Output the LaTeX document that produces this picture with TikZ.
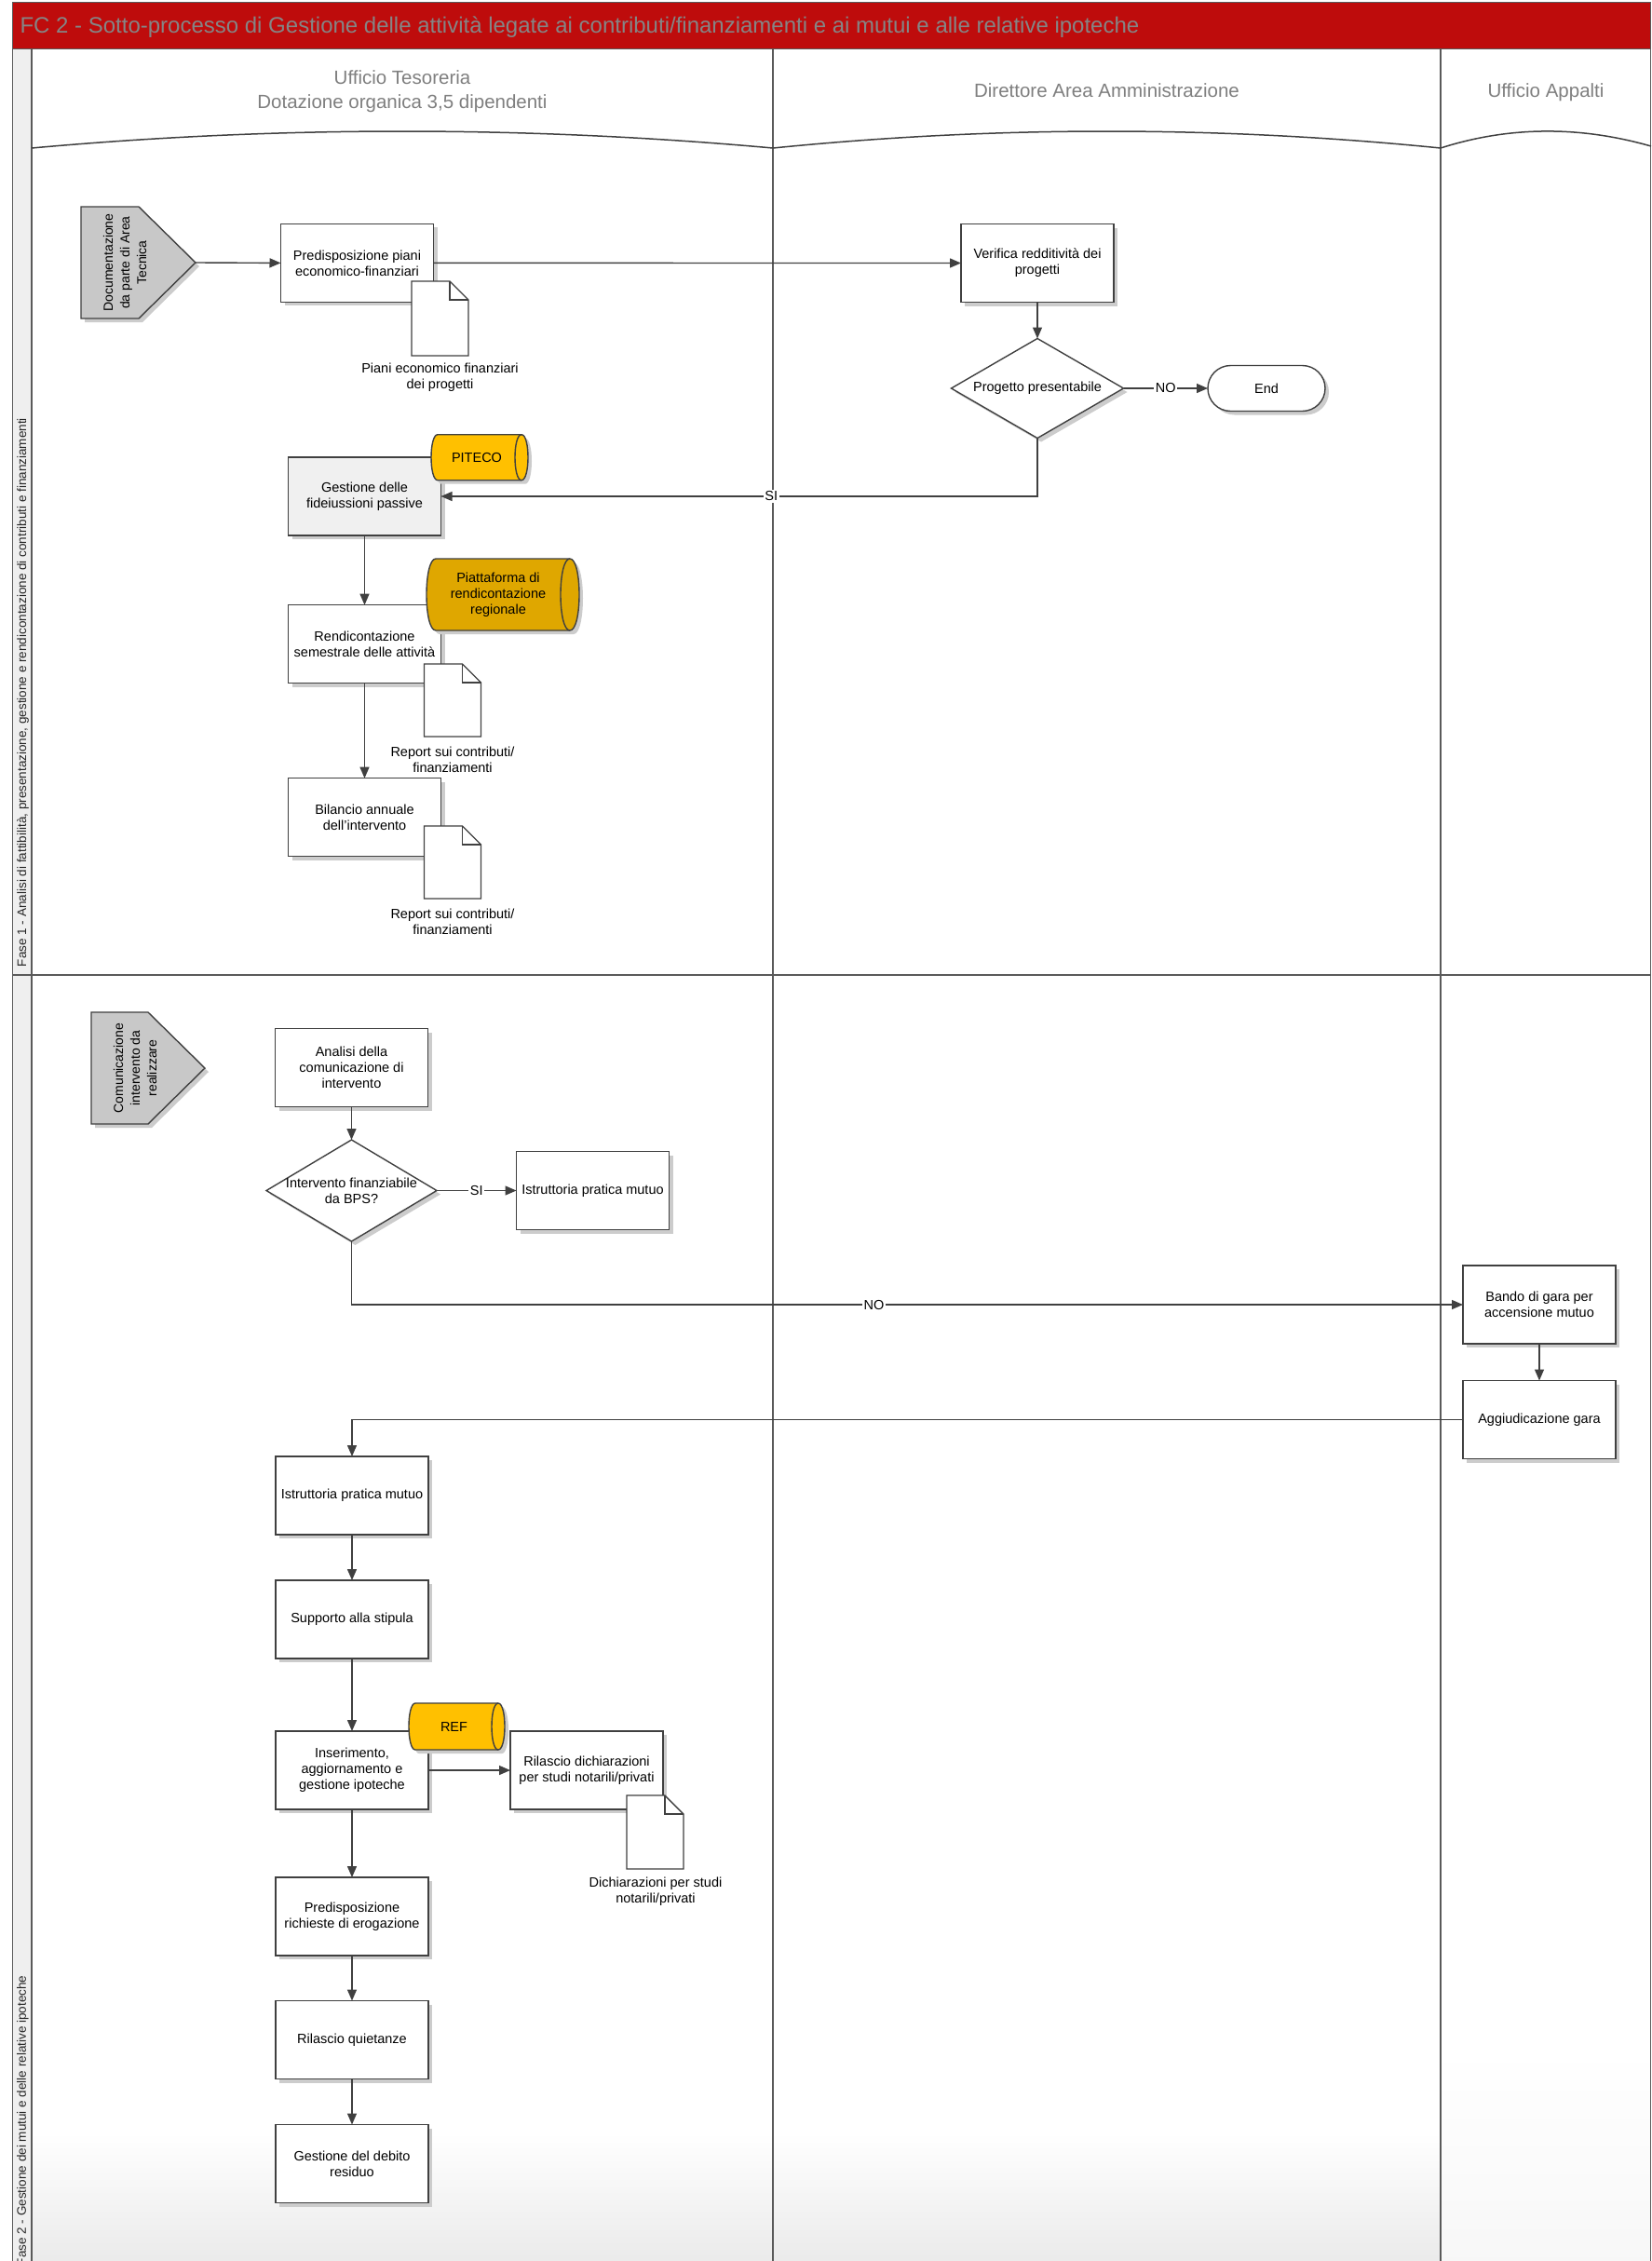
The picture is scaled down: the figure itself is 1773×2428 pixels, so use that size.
\documentclass[tikz,border=0pt]{standalone}
\usepackage{fontspec}
\setmainfont{Liberation Sans}
\usetikzlibrary{arrows.meta,calc,shadows}

\definecolor{titlered}{HTML}{BE0C0C}
\definecolor{titletext}{HTML}{858585}
\definecolor{hdrtext}{HTML}{7F7F7F}
\definecolor{ink}{HTML}{404040}
\definecolor{framec}{HTML}{5A5A5A}
\definecolor{bandc}{HTML}{EFEFEF}
\definecolor{connfill}{HTML}{C8C8C8}
\definecolor{gold}{HTML}{FFC000}
\definecolor{darkgold}{HTML}{DFA700}
\definecolor{softgray}{HTML}{F0F0F0}

\newcommand\ttlfont{\fontsize{24}{28}\selectfont}
\newcommand\hdrfont{\fontsize{20.5}{26}\selectfont}
\newcommand\txtfont{\fontsize{14.5}{17}\selectfont}
\newcommand\rotfont{\fontsize{14}{18}\selectfont}
\newcommand\phfont{\fontsize{13.5}{16}\selectfont}

\tikzset{
  every node/.style={inner sep=0pt, outer sep=0pt},
  boxshadow/.style={drop shadow={shadow xshift=4pt, shadow yshift=-4pt, fill=black!20, opacity=1}},
  shp/.style={draw=ink, line width=1.4pt, fill=white, line join=miter},
  shpline/.style={draw=ink, line width=1.4pt},
  geo/.style={draw=none, fill=none},
  taskbox/.style={draw=ink, line width=1.4pt, fill=white, minimum width=164pt,
    minimum height=84pt, align=center, font=\txtfont, boxshadow},
  endbox/.style={draw=ink, line width=1.4pt, fill=white, rounded corners=24.5pt,
    minimum width=126pt, minimum height=49pt, font=\txtfont, boxshadow},
  txt/.style={align=center, font=\txtfont},
  lbl/.style={align=center, font=\txtfont},
  rottxt/.style={rotate=90, align=center, font=\rotfont},
  hdr/.style={align=center, font=\hdrfont, text=hdrtext},
  phase/.style={rotate=90, anchor=west, font=\phfont, text=black!85},
  flow/.style={draw=ink, line width=1.4pt, -{Triangle[length=12pt,width=10pt]}},
  edgelbl/.style={fill=white, inner sep=1.5pt, font=\txtfont},
  laneline/.style={draw=framec, line width=1.3pt},
  hdrline/.style={draw=ink, line width=1.5pt},
}

% folded-corner document drawn on the frame of an empty node
\newcommand\drawdoc[1]{%
  \draw[shp] (#1.north west) -- ($(#1.north east)+(-20,0)$) -- ($(#1.north east)+(0,20)$)
    -- (#1.south east) -- (#1.south west) -- cycle;
  \draw[shpline] ($(#1.north east)+(-20,0)$) -- ($(#1.north east)+(-20,20)$) -- ($(#1.north east)+(0,20)$);}

% decision diamond through the four side anchors of a node
\newcommand\drawdiamond[1]{%
  \draw[shp, boxshadow] (#1.north) -- (#1.east) -- (#1.south) -- (#1.west) -- cycle;}

% horizontal database cylinder: node, end radius, fill colour
\newcommand\drawcyl[3]{%
  \draw[shp, fill=#3, boxshadow] ($(#1.north west)+(#2,0)$) -- ($(#1.north east)+(-#2,0)$)
    .. controls ($(#1.north east)+({0.333*#2},0)$) and ($(#1.south east)+({0.333*#2},0)$) .. ($(#1.south east)+(-#2,0)$)
    -- ($(#1.south west)+(#2,0)$)
    .. controls ($(#1.south west)+({-0.333*#2},0)$) and ($(#1.north west)+({-0.333*#2},0)$) .. ($(#1.north west)+(#2,0)$)
    -- cycle;
  \draw[shpline] ($(#1.north east)+(-#2,0)$)
    .. controls ($(#1.north east)+({-2.333*#2},0)$) and ($(#1.south east)+({-2.333*#2},0)$) .. ($(#1.south east)+(-#2,0)$);}

% off-page connector pointing right
\newcommand\drawoffpage[1]{%
  \draw[shp, fill=connfill, boxshadow] (#1.north west) -- ($(#1.north east)+(-61,0)$) -- (#1.east)
    -- ($(#1.south east)+(-61,0)$) -- (#1.south west) -- cycle;}

\begin{document}
\begin{tikzpicture}[x=1pt, y=-1pt]
\useasboundingbox (0,0) rectangle (1773,2428);
\clip (0,0) rectangle (1773,2428);
\fill[white] (0,0) rectangle (1773,2428);

% soft floor shading at the foot of the lanes
\shade[top color=white, bottom color=black!8] (34,2290) rectangle (1547,2428);
\shade[top color=white, middle color=black!8, bottom color=black!3] (1547,2200) rectangle (1773,2428);

% title bar
\fill[titlered] (13.3,2.7) rectangle (1773,52.3);
\node[anchor=base west, font=\ttlfont, text=titletext] (title) at (21.5,35)
  {FC 2 - Sotto-processo di Gestione delle attività legate ai contributi/finanziamenti e ai mutui e alle relative ipoteche};

% phase band and lane frame
\fill[bandc] (13.3,52.3) rectangle (34,2428);
\draw[laneline] (1773,2.7) -- (13.3,2.7) -- (13.3,2428);
\draw[laneline] (13.3,52.3) -- (1773,52.3);
\draw[laneline] (34,52.3) -- (34,2428);
\draw[laneline] (830,52.3) -- (830,2428);
\draw[laneline] (1547,52.3) -- (1547,2428);
\draw[laneline] (1772.3,2.7) -- (1772.3,2428);
\draw[laneline] (13.3,1047) -- (1773,1047);

% lane headers
\draw[hdrline] (34,159) .. controls (299.3,135) and (564.7,135) .. (830,159);
\draw[hdrline] (830,159) .. controls (1069,135) and (1308,135) .. (1547,159);
\draw[hdrline] (1547,159) .. controls (1622,135) and (1698,135.5) .. (1773,157);
\node[hdr] (laneA) at (432,98.4) {Ufficio Tesoreria\\Dotazione organica 3,5 dipendenti};
\node[hdr, anchor=base] (laneB) at (1188.5,104) {Direttore Area Amministrazione};
\node[hdr, anchor=base] (laneC) at (1660,104) {Ufficio Appalti};

% phase labels
\node[phase] (faseA) at (24.5,1038) {Fase 1 - Analisi di fattibilità, presentazione, gestione e rendicontazione di contributi e finanziamenti};
\node[phase] (faseB) at (24.5,2433) {Fase 2 - Gestione dei mutui e delle relative ipoteche};

% ---------------- Fase 1 ----------------
\node[geo, minimum width=123pt, minimum height=120pt] (srcA) at (148.5,282) {};
\drawoffpage{srcA}
\node[rottxt] (srcAtxt) at (134,282) {Documentazione\\da parte di Area\\Tecnica};

\node[taskbox] (prep) at (383.5,282.4) {Predisposizione piani\\economico-finanziari};
\node[geo, minimum width=61pt, minimum height=80pt] (docA) at (472.5,342) {};
\drawdoc{docA}
\node[lbl] (docAlab) at (472.5,405) {Piani economico finanziari\\dei progetti};

\node[taskbox] (verif) at (1114,282.5) {Verifica redditività dei\\progetti};
\node[geo, minimum width=185pt, minimum height=107pt] (qA) at (1114,417) {};
\drawdiamond{qA}
\node[txt] (qAtxt) at (qA) {Progetto presentabile};
\node[endbox] (fine) at (1360,417) {End};

\node[taskbox, fill=softgray] (fid) at (391.5,533) {Gestione delle\\fideiussioni passive};
\node[geo, minimum width=104pt, minimum height=49pt] (piteco) at (515,491.2) {};
\drawcyl{piteco}{7}{gold}
\node[txt] (pitecotxt) at (512,491.2) {PITECO};

\node[taskbox] (rend) at (391.5,691.7) {Rendicontazione\\semestrale delle attività};
\node[geo, minimum width=164pt, minimum height=77pt] (piatt) at (540,638.5) {};
\drawcyl{piatt}{10}{darkgold}
\node[txt] (piatttxt) at (535,638.5) {Piattaforma di\\rendicontazione\\regionale};
\node[geo, minimum width=61pt, minimum height=78pt] (docB) at (486,752) {};
\drawdoc{docB}
\node[lbl] (docBlab) at (486,815.5) {Report sui contributi/\\finanziamenti};

\node[taskbox] (bil) at (391.5,877.7) {Bilancio annuale\\dell’intervento};
\node[geo, minimum width=61pt, minimum height=78pt] (docC) at (486,926) {};
\drawdoc{docC}
\node[lbl] (docClab) at (486,989.5) {Report sui contributi/\\finanziamenti};

\draw[flow] (srcA.east) -- (prep.west);
\draw[flow] (prep.east) -- (verif.west);
\draw[flow] (verif.south) -- (qA.north);
\draw[flow] (qA.east) -- node[edgelbl] {NO} (fine.west);
\draw[flow] (qA.south) |- node[edgelbl, pos=0.723] {SI} (fid.east);
\draw[flow] (fid.south) -- (rend.north);
\draw[flow] (rend.south) -- (bil.north);

% ---------------- Fase 2 ----------------
\node[geo, minimum width=122pt, minimum height=120pt] (srcB) at (159,1147) {};
\drawoffpage{srcB}
\node[rottxt] (srcBtxt) at (145,1147) {Comunicazione\\intervento da\\realizzare};

\node[taskbox] (anal) at (377.5,1146.5) {Analisi della\\comunicazione di\\intervento};
\node[geo, minimum width=183pt, minimum height=109pt] (qB) at (377.5,1278.5) {};
\drawdiamond{qB}
\node[txt] (qBtxt) at (qB) {Intervento finanziabile\\da BPS?};
\node[taskbox] (istrA) at (636.5,1278.5) {Istruttoria pratica mutuo};

\node[taskbox] (bando) at (1653,1401) {Bando di gara per\\accensione mutuo};
\node[taskbox] (aggiud) at (1653,1524.5) {Aggiudicazione gara};

\node[taskbox] (istrB) at (378,1606) {Istruttoria pratica mutuo};
\node[taskbox] (stip) at (378,1739) {Supporto alla stipula};
\node[taskbox] (ipot) at (378,1901) {Inserimento,\\aggiornamento e\\gestione ipoteche};
\node[geo, minimum width=103pt, minimum height=50pt] (refdb) at (490.5,1854) {};
\drawcyl{refdb}{7}{gold}
\node[txt] (reftxt) at (487.5,1854) {REF};
\node[taskbox] (dich) at (630,1901) {Rilascio dichiarazioni\\per studi notarili/privati};
\node[geo, minimum width=61pt, minimum height=79pt] (docD) at (703.5,1967.5) {};
\drawdoc{docD}
\node[lbl] (docDlab) at (704,2031) {Dichiarazioni per studi\\notarili/privati};
\node[taskbox] (erog) at (378,2058) {Predisposizione\\richieste di erogazione};
\node[taskbox] (quiet) at (378,2190.5) {Rilascio quietanze};
\node[taskbox] (debito) at (378,2323.5) {Gestione del debito\\residuo};

\draw[flow] (anal.south) -- (qB.north);
\draw[flow] (qB.east) -- node[edgelbl] {SI} (istrA.west);
\draw[flow] (qB.south) |- node[edgelbl, pos=0.735] {NO} (bando.west);
\draw[flow] (bando.south) -- (aggiud.north);
\draw[flow] (aggiud.west) -| (istrB.north);
\draw[flow] (istrB.south) -- (stip.north);
\draw[flow] (stip.south) -- (ipot.north);
\draw[flow] (ipot.east) -- (dich.west);
\draw[flow] (ipot.south) -- (erog.north);
\draw[flow] (erog.south) -- (quiet.north);
\draw[flow] (quiet.south) -- (debito.north);
\end{tikzpicture}
\end{document}
